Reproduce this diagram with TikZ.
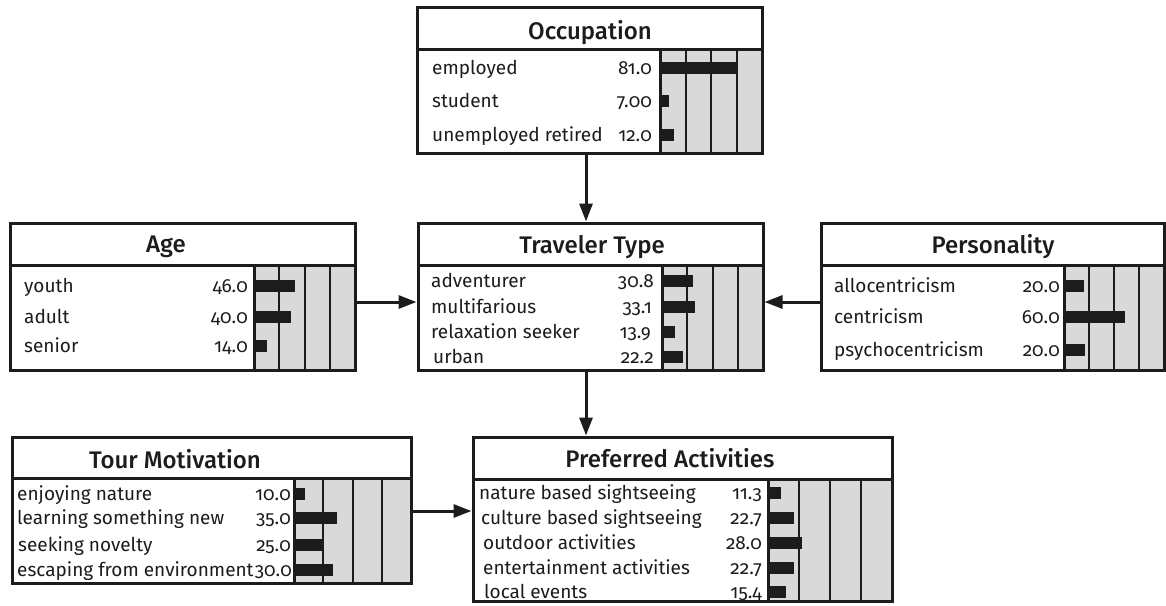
\documentclass[tikz,border=0pt]{standalone}
\usepackage{fontspec}
\setmainfont{Fira Sans}[Numbers=OldStyle]
\newfontfamily\ttlfont{Fira Sans Medium}[Numbers=OldStyle]
\usetikzlibrary{arrows.meta,fit}
\definecolor{ink}{HTML}{1C1C1C}
\definecolor{barbg}{HTML}{D9D9D9}
\tikzset{
  boxnode/.style={draw=ink, line width=3pt, fill=white, inner sep=0pt},
  framel/.style={draw=ink, line width=3pt},
  gridl/.style={draw=ink, line width=2pt},
  lbl/.style={anchor=base west, inner sep=0pt, text=ink, font=\fontsize{19}{22}\selectfont},
  num/.style={anchor=base east, inner sep=0pt, text=ink, font=\fontsize{19}{22}\selectfont},
  ttl/.style={anchor=base, inner sep=0pt, text=ink, font=\ttlfont\fontsize{24}{27}\selectfont},
  arr/.style={draw=ink, line width=3pt, -{Triangle[length=18pt,width=13pt]}},
}
% box: name, x1, y1, x2, y2, ysep, xbar
\newcommand\cptbox[7]{%
  \path (#2,#3) coordinate (#1-nw) (#4,#5) coordinate (#1-se);
  \node[boxnode, fit=(#1-nw)(#1-se)] (#1) {};
  \fill[barbg] (#7,#6) rectangle (#4,#5);
  \foreach \k in {1,2,3}{\draw[gridl] ({#7+\k*(#4-#7)/4},#6) -- ({#7+\k*(#4-#7)/4},#5);}
  \draw[framel] (#2,#6) -- (#4,#6) (#7,#6) -- (#7,#5);
  \draw[framel] (#2,#3) rectangle (#4,#5);
}
% row: labelx, label, numx, number, barx, barlength, ycenter
\newcommand\cptrow[7]{%
  \node[lbl] at (#1,#7+6) {#2};
  \node[num] at (#3,#7+6) {#4};
  \fill[ink] (#5,#7-6) rectangle ++(#6,12);
}
\begin{document}
\begin{tikzpicture}[x=1pt,y=-1pt]
\useasboundingbox (0,0) rectangle (1166,605);

% Occupation
\cptbox{occ}{417}{7}{762}{153}{49}{660}
\node[ttl] (occt) at (590,39) {Occupation};
\cptrow{432}{employed}{652}{81.0}{660}{78}{68}
\cptrow{432}{student}{652}{7.00}{660}{9}{101}
\cptrow{432}{unemployed retired}{652}{12.0}{660}{14}{135}

% Age
\cptbox{age}{10}{223}{355}{370}{265}{254}
\node[ttl] (aget) at (166,252) {Age};
\cptrow{24}{youth}{248}{46.0}{254}{41}{286}
\cptrow{24}{adult}{248}{40.0}{254}{37}{317}
\cptrow{24}{senior}{248}{14.0}{254}{13}{346}

% Traveler Type
\cptbox{tt}{418}{223}{763}{370}{265}{662}
\node[ttl] (ttt) at (592,253) {Traveler Type};
\cptrow{431}{adventurer}{654}{30.8}{662}{31}{281}
\cptrow{431}{multifarious}{652}{33.1}{662}{33}{307}
\cptrow{431}{relaxation seeker}{651}{13.9}{662}{13}{332}
\cptrow{433}{urban}{654}{22.2}{662}{21}{357}

% Personality
\cptbox{pers}{821}{223}{1164}{370}{265}{1064}
\node[ttl] (perst) at (993,253) {Personality};
\cptrow{834}{allocentricism}{1060}{20.0}{1064}{20}{286}
\cptrow{834}{centricism}{1060}{60.0}{1064}{61}{317}
\cptrow{834}{psychocentricism}{1060}{20.0}{1064}{21}{350}

% Tour Motivation
\cptbox{tour}{12}{437}{411}{583}{478}{294}
\node[ttl] (tourt) at (175,468) {Tour Motivation};
\cptrow{17}{enjoying nature}{291}{10.0}{294}{11}{494}
\cptrow{17}{learning something new}{291}{35.0}{294}{43}{518}
\cptrow{18}{seeking novelty}{291}{25.0}{294}{29}{545}
\cptrow{17}{escaping from environment}{292}{30.0}{294}{39}{570}

% Preferred Activities
\cptbox{pref}{473}{437}{892}{601}{479}{768}
\node[ttl] (preft) at (670,467) {Preferred Activities};
\cptrow{479}{nature based sightseeing}{762}{11.3}{768}{13}{493}
\cptrow{481}{culture based sightseeing}{762}{22.7}{768}{26}{518}
\cptrow{483}{outdoor activities}{762}{28.0}{768}{34}{543}
\cptrow{483}{entertainment activities}{762}{22.7}{768}{26}{568}
\cptrow{484}{local events}{762}{15.4}{768}{18}{592}

% connectors
\draw[arr] (occ.south -| 586,0) -- (tt.north -| 586,0);
\draw[arr] (age.east |- 0,302) -- (tt.west |- 0,302);
\draw[arr] (pers.west |- 0,302) -- (tt.east |- 0,302);
\draw[arr] (tt.south -| 586,0) -- (pref.north -| 586,0);
\draw[arr] (tour.east |- 0,511) -- (pref.west |- 0,511);
\end{tikzpicture}
\end{document}
